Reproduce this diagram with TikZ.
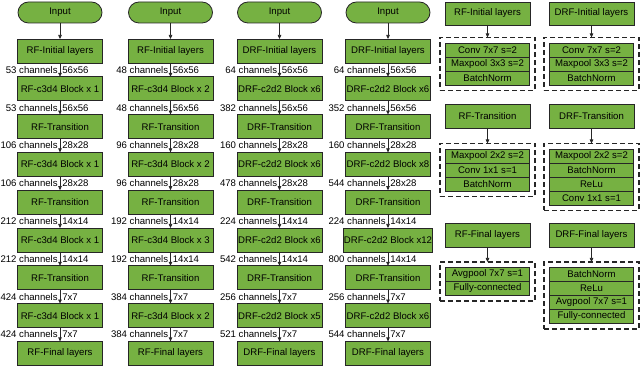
\documentclass[tikz,border=0pt]{standalone}
\usepackage{fontspec}
\setmainfont{Liberation Sans}
\usetikzlibrary{arrows.meta,positioning,fit}
\definecolor{layergreen}{RGB}{118,177,66}
\definecolor{edgecol}{RGB}{38,38,38}
\tikzset{
  layer/.style   ={rectangle, draw=edgecol, line width=0.8pt, fill=layergreen, outer sep=0pt,
                   minimum width=85pt, minimum height=24pt, inner xsep=0.5pt,
                   font=\fontsize{9.6}{11}\selectfont},
  startbox/.style={layer, rounded corners=10.5pt, minimum height=21pt, minimum width=84pt},
  sublayer/.style={layer, minimum width=84pt, minimum height=14pt, inner ysep=0pt},
  group/.style   ={rectangle, draw=edgecol, line width=1.2pt, dash pattern=on 5pt off 3pt,
                   inner xsep=5.5pt, inner ysep=5.5pt, outer sep=0pt},
  flow/.style    ={-{Triangle[length=4pt,width=3.5pt]}, line width=0.7pt, draw=edgecol},
  chlbl/.style   ={font=\fontsize{9.6}{11}\selectfont, inner sep=1pt},
}

\begin{document}
\begin{tikzpicture}[x=1pt, y=-1pt, node distance=13.8pt]
  \useasboundingbox (0,0) rectangle (640,366);

  % the four networks
  \foreach \col/\cx/\pre/\ba/\bb/\bc/\bd/\ka/\kb/\kc/\kd/\ke/\kf/\kg/\kh in {
      a/60/RF/RF-c3d4 Block x 1/RF-c3d4 Block x 1/RF-c3d4 Block x 1/RF-c3d4 Block x 1/53/53/106/106/212/212/424/424,
      b/170.5/RF/RF-c3d4 Block x 2/RF-c3d4 Block x 2/RF-c3d4 Block x 3/RF-c3d4 Block x 2/48/48/96/96/192/192/384/384,
      c/279.5/DRF/DRF-c2d2 Block x6/DRF-c2d2 Block x6/DRF-c2d2 Block x6/DRF-c2d2 Block x5/64/382/160/478/224/542/256/521,
      d/388/DRF/DRF-c2d2 Block x6/DRF-c2d2 Block x8/DRF-c2d2 Block x12/DRF-c2d2 Block x6/64/352/160/544/224/800/256/544}
  {
    \node[startbox] (\col0) at (\cx,12.5) {Input};
    \node[layer, below=16pt of \col0] (\col1) {\pre-Initial layers};
    \node[layer, below=of \col1] (\col2) {\ba};
    \node[layer, below=of \col2] (\col3) {\pre-Transition};
    \node[layer, below=of \col3] (\col4) {\bb};
    \node[layer, below=of \col4] (\col5) {\pre-Transition};
    \node[layer, below=of \col5] (\col6) {\bc};
    \node[layer, below=of \col6] (\col7) {\pre-Transition};
    \node[layer, below=of \col7] (\col8) {\bd};
    \node[layer, below=of \col8] (\col9) {\pre-Final layers};

    \draw[flow] (\col0) -- (\col1);
    \foreach \i/\j/\ch/\sz in {1/2/\ka/56x56, 2/3/\kb/56x56, 3/4/\kc/28x28, 4/5/\kd/28x28,
                               5/6/\ke/14x14, 6/7/\kf/14x14, 7/8/\kg/7x7, 8/9/\kh/7x7}
      \draw[flow] (\col\i) -- (\col\j)
          node[midway, chlbl, left=1pt] {\ch\ channels}
          node[midway, chlbl, right=1pt] {\sz};
  }

  % RF details
  \node[layer, minimum height=23pt] (rfinit) at (487.5,13.5) {RF-Initial layers};
  \node[sublayer, below=18pt of rfinit] (rfi1) {Conv 7x7 s=2};
  \node[sublayer, below=0pt of rfi1] (rfi2) {Maxpool 3x3 s=2};
  \node[sublayer, below=0pt of rfi2] (rfi3) {BatchNorm};
  \node[group, fit=(rfi1)(rfi3)] (rfig) {};
  \draw[flow] (rfinit) -- (rfig);

  \node[layer, below=13.5pt of rfig] (rftrans) {RF-Transition};
  \node[sublayer, below=21pt of rftrans] (rft1) {Maxpool 2x2 s=2};
  \node[sublayer, below=0pt of rft1] (rft2) {Conv 1x1 s=1};
  \node[sublayer, below=0pt of rft2] (rft3) {BatchNorm};
  \node[group, fit=(rft1)(rft3)] (rftg) {};
  \draw[flow] (rftrans) -- (rftg);

  \node[layer, below=27pt of rftg] (rffinal) {RF-Final layers};
  \node[sublayer, below=20pt of rffinal] (rff1) {Avgpool 7x7 s=1};
  \node[sublayer, below=0pt of rff1] (rff2) {Fully-connected};
  \node[group, fit=(rff1)(rff2)] (rffg) {};
  \draw[flow] (rffinal) -- (rffg);

  % DRF details
  \node[layer, minimum height=23pt, right=19pt of rfinit] (drfinit) {DRF-Initial layers};
  \node[sublayer, below=18pt of drfinit] (drfi1) {Conv 7x7 s=2};
  \node[sublayer, below=0pt of drfi1] (drfi2) {Maxpool 3x3 s=2};
  \node[sublayer, below=0pt of drfi2] (drfi3) {BatchNorm};
  \node[group, fit=(drfi1)(drfi3)] (drfig) {};
  \draw[flow] (drfinit) -- (drfig);

  \node[layer, right=19pt of rftrans] (drftrans) {DRF-Transition};
  \node[sublayer, below=21pt of drftrans] (drft1) {Maxpool 2x2 s=2};
  \node[sublayer, below=0pt of drft1] (drft2) {BatchNorm};
  \node[sublayer, below=0pt of drft2] (drft3) {ReLu};
  \node[sublayer, below=0pt of drft3] (drft4) {Conv 1x1 s=1};
  \node[group, fit=(drft1)(drft4)] (drftg) {};
  \draw[flow] (drftrans) -- (drftg);

  \node[layer, right=19pt of rffinal] (drffinal) {DRF-Final layers};
  \node[sublayer, below=20pt of drffinal] (drff1) {BatchNorm};
  \node[sublayer, below=0pt of drff1] (drff2) {ReLu};
  \node[sublayer, below=0pt of drff2] (drff3) {Avgpool 7x7 s=1};
  \node[sublayer, below=0pt of drff3] (drff4) {Fully-connected};
  \node[group, fit=(drff1)(drff4)] (drffg) {};
  \draw[flow] (drffinal) -- (drffg);
\end{tikzpicture}
\end{document}
